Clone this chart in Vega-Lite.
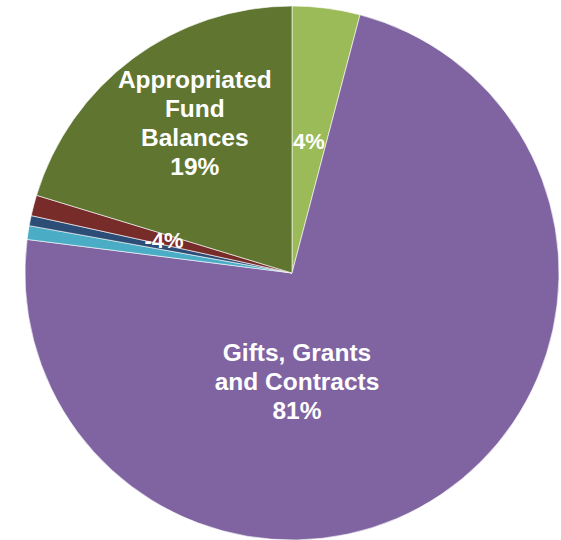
{
  "$schema": "https://vega.github.io/schema/vega-lite/v6.json",
  "width": 538,
  "height": 534,
  "autosize": "none",
  "padding": {"left": 23, "top": 6, "right": 0, "bottom": 0},
  "background": "white",
  "data": {
    "values": [
      {"category": "Other", "order": 1, "value": 4.1, "label": "4%"},
      {"category": "Gifts, Grants and Contracts", "order": 2, "value": 72.9, "label": "Gifts, Grants\nand Contracts\n81%"},
      {"category": "Negative A", "order": 3, "value": 0.83, "label": ""},
      {"category": "Negative B", "order": 4, "value": 0.61, "label": "-4%"},
      {"category": "Negative C", "order": 5, "value": 1.25, "label": ""},
      {"category": "Appropriated Fund Balances", "order": 6, "value": 20.3, "label": "Appropriated\nFund\nBalances\n19%"}
    ]
  },
  "encoding": {
    "theta": {"field": "value", "type": "quantitative", "stack": true},
    "order": {"field": "order", "type": "quantitative"}
  },
  "layer": [
    {
      "mark": {"type": "arc", "stroke": "#ffffff", "strokeWidth": 0.6},
      "encoding": {
        "color": {
          "field": "category",
          "type": "nominal",
          "scale": {
            "domain": ["Other", "Gifts, Grants and Contracts", "Negative A", "Negative B", "Negative C", "Appropriated Fund Balances"],
            "range": ["#9BBB59", "#8064A2", "#4BACC6", "#2C4D75", "#772C2A", "#5F7530"]
          },
          "legend": null
        }
      }
    },
    {
      "mark": {"type": "text", "radius": 132, "font": "Liberation Sans", "fontWeight": "bold", "fontSize": 22, "fill": "white", "baseline": "middle", "align": "center"},
      "encoding": {
        "text": {"condition": {"test": "datum.order === 1", "field": "label"}, "value": ""}
      }
    },
    {
      "mark": {"type": "text", "radius": 132, "dx": 1.5, "dy": -6, "font": "Liberation Sans", "fontWeight": "bold", "fontSize": 22, "fill": "white", "baseline": "middle", "align": "center"},
      "encoding": {
        "text": {"condition": {"test": "datum.order === 4", "field": "label"}, "value": ""}
      }
    },
    {
      "mark": {"type": "text", "radius": 180, "dx": 10, "dy": -47, "lineBreak": "\n", "lineHeight": 29, "font": "Liberation Sans", "fontWeight": "bold", "fontSize": 24.5, "fill": "white", "baseline": "middle", "align": "center"},
      "encoding": {
        "text": {"condition": {"test": "datum.order === 6", "field": "label"}, "value": ""}
      }
    },
    {
      "mark": {"type": "text", "radius": 0, "dx": 5, "dy": 81, "lineBreak": "\n", "lineHeight": 29, "font": "Liberation Sans", "fontWeight": "bold", "fontSize": 24.5, "fill": "white", "baseline": "middle", "align": "center"},
      "encoding": {
        "text": {"condition": {"test": "datum.order === 2", "field": "label"}, "value": ""}
      }
    }
  ]
}
